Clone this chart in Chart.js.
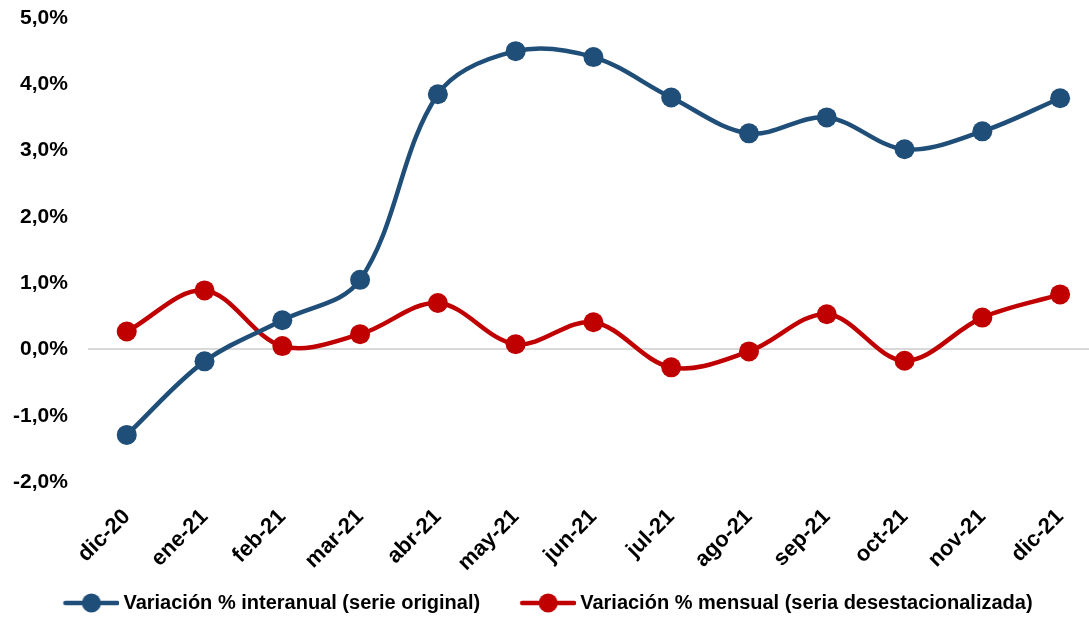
<!DOCTYPE html>
<html>
<head>
<meta charset="utf-8">
<script src="https://cdn.jsdelivr.net/npm/chart.js@4/dist/chart.umd.min.js"></script>
<style>
	html, body { margin: 0; padding: 0; background: #fff; }
	#wrap { width: 1089px; height: 628px; position: relative; }
</style>
</head>
<body>
<div id="wrap"><canvas id="chart"></canvas></div>
<script>
const months = [
	"dic-20", "ene-21", "feb-21", "mar-21", "abr-21", "may-21", "jun-21",
	"jul-21", "ago-21", "sep-21", "oct-21", "nov-21", "dic-21",
];
const interanual = [-1.29, -0.18, 0.44, 1.05, 3.85, 4.5, 4.41, 3.8, 3.26, 3.5, 3.02, 3.29, 3.79];
const mensual = [0.27, 0.89, 0.05, 0.23, 0.7, 0.08, 0.41, -0.27, -0.03, 0.53, -0.17, 0.48, 0.83];
const seriesNames = [
	"Variación % interanual (serie original)",
	"Variación % mensual (seria desestacionalizada)",
];

const BLUE = "#1F4E79";
const RED = "#C00000";
const FONT = "'Liberation Sans', Arial, sans-serif";

const SYMBOL_BOX = 80; // legend box incl. the gap before each item

// line + marker for the legend, drawn at the right end of a wider image
const legendSymbol = (color) => {
	const c = document.createElement("canvas");
	c.width = SYMBOL_BOX + 12;
	c.height = 22;
	const ctx = c.getContext("2d");
	const x0 = c.width - 56;
	ctx.strokeStyle = color;
	ctx.lineWidth = 4.5;
	ctx.lineCap = "round";
	ctx.beginPath();
	ctx.moveTo(x0 + 2, 11);
	ctx.lineTo(x0 + 54, 11);
	ctx.stroke();
	ctx.fillStyle = color;
	ctx.beginPath();
	ctx.arc(x0 + 28, 11, 9.5, 0, Math.PI * 2);
	ctx.fill();
	return c;
};

const colors = [BLUE, RED];

// plot area runs a bit past the right edge of the canvas, like the original;
// the first legend item carries a blank lead-in, so pull the legend back
const layoutTweaks = {
	id: "layoutTweaks",
	afterLayout(chart) {
		const x = chart.scales.x;
		chart.chartArea.right += 10;
		chart.chartArea.width += 10;
		x.right += 10;
		x.width += 10;
		x.configure();
		chart.legend.left -= 8;
		chart.legend.right -= 8;
	},
};

new Chart(document.getElementById("chart"), {
	type: "line",
	data: {
		labels: months,
		datasets: [
			{
				label: seriesNames[0],
				data: interanual,
				borderColor: BLUE,
				backgroundColor: BLUE,
				borderWidth: 4.5,
				pointRadius: 10,
				pointBorderWidth: 0,
				pointHoverRadius: 10,
				tension: 0.35,
			},
			{
				label: seriesNames[1],
				data: mensual,
				borderColor: RED,
				backgroundColor: RED,
				borderWidth: 4.5,
				pointRadius: 10,
				pointBorderWidth: 0,
				pointHoverRadius: 10,
				tension: 0.35,
			},
		],
	},
	plugins: [layoutTweaks],
	options: {
		responsive: true,
		maintainAspectRatio: false,
		animation: false,
		layout: { autoPadding: false, padding: { top: 0, right: 0, left: -7, bottom: 5 } },
		plugins: {
			tooltip: { enabled: false },
			legend: {
				position: "bottom",
				labels: {
					usePointStyle: true,
					pointStyleWidth: SYMBOL_BOX,
					padding: 10,
					color: "#000",
					font: { family: FONT, size: 20, weight: "bold" },
					generateLabels: (chart) =>
						chart.data.datasets.map((ds, i) => ({
							text: ds.label,
							pointStyle: legendSymbol(colors[i]),
							fillStyle: colors[i],
							strokeStyle: colors[i],
							lineWidth: 0,
							datasetIndex: i,
							fontColor: "#000",
						})),
				},
			},
		},
		scales: {
			x: {
				offset: true,
				grid: { display: false, drawTicks: false },
				border: { display: false },
				afterFit: (scale) => {
					scale.height = 101;
					scale.paddingLeft = 0;
					scale.paddingRight = 0;
				},
				ticks: {
					color: "#000",
					minRotation: 45,
					maxRotation: 45,
					padding: 22,
					font: { family: FONT, size: 22, weight: "bold" },
				},
			},
			y: {
				min: -2,
				max: 5,
				grid: {
					drawTicks: false,
					lineWidth: 2,
					color: (ctx) => (ctx.tick && ctx.tick.value === 0 ? "#D9D9D9" : "rgba(0,0,0,0)"),
				},
				border: { display: false },
				afterFit: (scale) => {
					scale.paddingTop = 18;
				},
				ticks: {
					stepSize: 1,
					color: "#000",
					padding: 20,
					font: { family: FONT, size: 21, weight: "bold" },
					callback: (v) => v.toFixed(1).replace(".", ",") + "%",
				},
			},
		},
	},
});
</script>
</body>
</html>
